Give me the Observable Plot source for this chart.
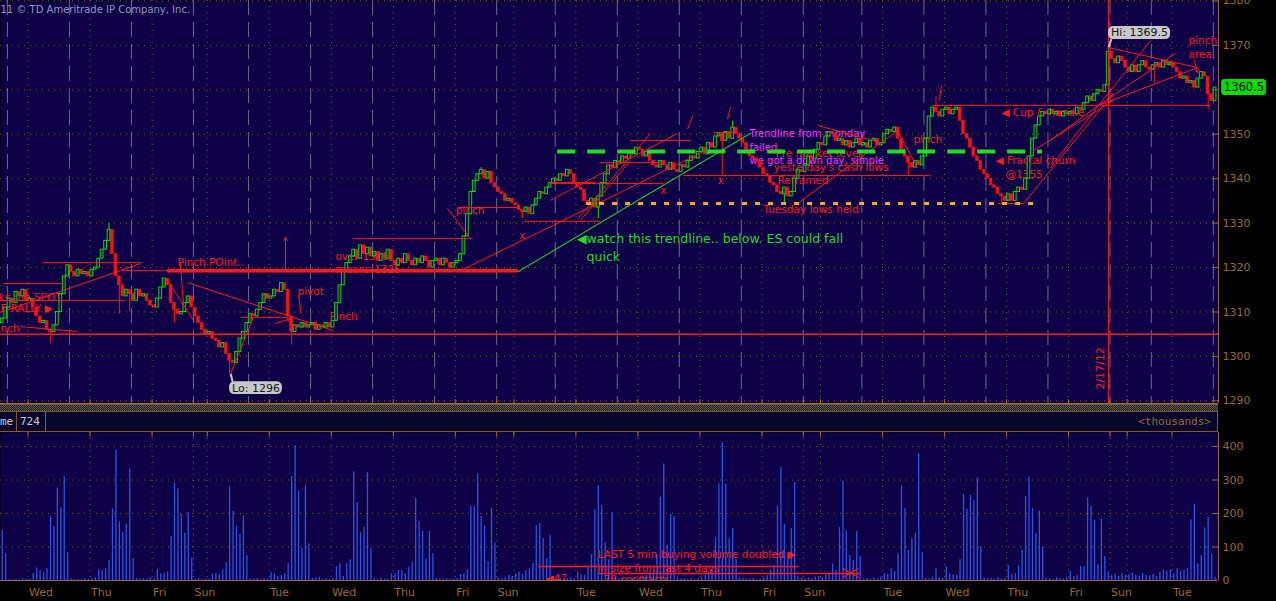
<!DOCTYPE html>
<html>
<head>
<meta charset="utf-8">
<script src="https://cdn.jsdelivr.net/npm/d3@7"></script>
<script src="https://cdn.jsdelivr.net/npm/@observablehq/plot@0.6"></script>
<style>
html,body{margin:0;padding:0;background:#000;}
body{width:1276px;height:601px;overflow:hidden;position:relative;font-family:"DejaVu Sans",sans-serif;}
#price{position:absolute;left:0;top:0;}
#vol{position:absolute;left:0;top:432px;}
#sep{position:absolute;left:0;top:404px;width:1218px;height:6px;border-top:1px solid #8a5a1e;border-bottom:1px solid #8a5a1e;background:repeating-conic-gradient(#5e5e5e 0 25%,#1c1c1c 0 50%) 0 0/2px 2px;}
#hdr{position:absolute;left:0;top:412px;width:1217px;height:19px;background:#07072e;border-bottom:1px solid #8a5a1e;border-right:1px solid #8a5a1e;font-size:11px;line-height:19px;}
#hdr .b{position:absolute;top:0;height:19px;border-right:1px solid #8a5a1e;color:#c8c8d4;font-family:"DejaVu Sans Mono",monospace;box-sizing:border-box;}
#th{position:absolute;right:6px;top:0;color:#9a6a30;font-family:"DejaVu Sans Mono",monospace;}
svg{overflow:visible;}
</style>
</head>
<body>
<div id="price"></div>
<div id="sep"></div>
<div id="hdr"><span class="b" style="left:0;width:17px;">me</span><span class="b" style="left:17px;width:29px;padding-left:3px;">724</span><span id="th">&lt;thousands&gt;</span></div>
<div id="vol"></div>
<script>
// ---------- colours ----------
const NAVY="#0d0046", AX="#9a6a30", GRID="#8a6226", GRAY="#6c6c84", UP="#00e000", DN="#ff1010", RED="#ff1a1a", VOLC="#2a55e6", MAG="#ff33ff", GRN="#22dd22";
const FONT="DejaVu Sans";

// ---------- sessions (one entry per day on the time axis) ----------
const dayNames=["Tue","Wed","Thu","Fri","Sun","Mon","Tue","Wed","Thu","Fri","Sun","Mon","Tue","Wed","Thu","Fri","Sun","Mon","Tue","Wed","Thu","Fri","Sun","Mon","Tue"];
const dayBars=[8,18,18,12,4,18,18,18,18,12,5,18,18,18,18,12,5,18,18,18,18,12,5,13,13];
const sessionOpens=[2,20,38,56,72,90,108,126,144,161,179,197,215,233,250,268,286,304,322,334,352];

// ---------- price (ES, closes per bar) ----------
const firstOpen=1307.5;
const closes=[
 1308.5,1311,1313,1312,1314.5,1313.5,1315,1312.5,
 1313,1311,1309,1307.5,1308,1306,1305.5,1307,1310,1314,1318,1320.5,1319,1318,1319.5,1318.5,1319,1318,
 1319.5,1320,1322,1324,1326,1328.5,1323,1318,1316,1313.5,1315,1314,1312.5,1315,1313.5,1314,1312.5,1311.5,
 1311,1313,1315.5,1317.5,1316,1312,1310.5,1309.5,1310,1312,1313.5,1311,
 1309,1307.5,1306,1305,
 1305.5,1304,1303.5,1302,1303,1300.5,1299,1298.5,1301,1304,1305.5,1307.5,1309.5,1309,1310.5,1312,1314,1313,
 1313.5,1315,1314.5,1316.5,1315,1309,1305.5,1307,1306.5,1307.5,1306.5,1307,1307.5,1306,1307,1306.5,1307.5,1306.5,
 1308,1312,1316,1319,1321,1322.5,1324,1322,1325,1323,1324.5,1322.5,1323.5,1321.5,1323,1322,1324,1321.5,
 1320.5,1322,1321,1323,1321.5,1320.5,1322,1321,1322.5,1321.5,1320,1321.5,1322,1320.5,1322,1321,1320,1321,
 1321.5,1323,1327,1332,1337,1339.5,1341,1342,1340,1341.5,1339,1338,
 1337,1336.5,1335,1335.5,1334.5,
 1334,1333,1332.5,1333.5,1332,1334,1335.5,1337,1336.5,1338,1339,1340,1339.5,1341,1340.5,1342,1341,1339,
 1338,1337.5,1335,1334,1335.5,1333.5,1336,1339,1341,1343,1342.5,1344,1343.5,1345,1344.5,1346,1345.5,1347,
 1346.5,1345,1346,1344,1343,1342.5,1344,1343,1342,1343.5,1342,1341.5,1343,1342.5,1344,1345,1344.5,1346,
 1347,1345.5,1348,1347,1349.5,1350,1348.5,1350.5,1349,1351.5,1350,1349,1348,1346.5,1345,1344.5,1344,1342.5,
 1341,1340.5,1339,1338.5,1337,1336.5,1338,1336,1337,1340,1342,1341.5,
 1343,1345,1344.5,1346.5,1348,
 1347.5,1349.5,1350.5,1350,1348.5,1349,1347.5,1348.5,1347,1348,1349,1347.5,1348,1347,1348.5,1349,1347.5,1348,
 1350,1351,1350.5,1351.5,1349,1346.5,1345,1343.5,1342.5,1344,1343,1345,1349,1354,1356,1355,1354,1355.5,
 1356,1354.5,1355.5,1356,1353,1350,1349,1347,1345,1344,1342,1341,1340,1338.5,1338,1336.5,1336,1335,
 1336.5,1335,1337,1338,1337.5,1340,1345,1349,1352,1354,1355,1354.5,1355.5,1354.5,1355,1354,1355,1354.5,
 1355,1354.5,1356,1355.5,1357,1358.5,1357.5,1359,1360,1359.5,1361,1368.5,
 1367,1366,1367.5,1366.5,1365,
 1364,1365.5,1364,1365.5,1366.5,1365,1364.5,1365.5,1366,1365,1366.5,1365.5,1366,
 1365,1364,1362.5,1363,1361.5,1362,1360.5,1362.5,1364,1363,1359,1357.5,1360.5
];
const wickBars=[14,31,34,37,50,66,84,139,151,173,212,227,263,271,290,321,350];
const wickTip=[1303,1330,1309.5,1310,1307.5,1296,1302.5,1342.5,1331,1331,1353,1334,1340.5,1358.5,1334.5,1369.5,1355.5];

// ---------- volume (thousands) ----------
const volumes=[
 150,80,3,2,4,3,5,3,
 4,20,37,30,25,35,191,161,276,217,310,83,5,3,4,2,5,3,
 5,8,32,30,35,59,214,390,176,143,169,333,65,6,4,5,3,8,
 5,32,20,22,25,131,290,273,198,141,203,67,
 3,5,2,4,
 4,20,22,18,32,54,281,206,161,137,191,75,5,4,6,3,5,4,
 25,20,12,15,20,52,310,402,268,95,284,109,6,8,10,4,5,3,
 5,42,50,12,50,62,325,232,143,159,322,95,5,3,6,4,3,20,
 20,30,30,20,40,55,245,176,147,65,147,80,6,5,4,5,3,4,
 5,18,20,32,221,221,318,191,161,56,215,113,
 8,5,10,15,12,
 20,25,18,30,35,50,164,170,125,65,134,10,5,6,4,5,8,6,
 25,18,15,42,77,211,283,224,113,62,204,8,5,4,6,3,5,4,
 8,12,15,25,30,77,249,348,106,198,191,10,5,6,4,5,3,6,
 10,15,25,30,128,289,411,288,126,155,63,8,6,5,4,6,3,5,
 10,15,30,43,221,337,167,80,156,293,10,8,
 5,8,6,10,12,
 10,15,20,49,30,158,297,149,75,60,147,72,5,6,4,8,5,10,
 20,18,35,27,80,283,215,90,125,140,379,83,6,5,10,35,8,6,
 42,20,18,15,62,257,212,254,239,307,101,8,5,6,4,8,5,6,
 45,18,20,45,90,251,308,215,140,207,99,6,5,4,8,6,5,8,
 27,12,15,42,40,246,221,180,48,183,72,25,
 15,18,12,20,16,
 18,22,15,12,20,16,14,18,12,25,30,28,32,
 20,35,28,30,35,181,228,50,75,157,189,78,10
];

// ---------- axes ----------
const priceTicks=[1290,1300,1310,1320,1330,1340,1350,1360,1370,1380];
const volTicks=[0,100,200,300,400];
const hiLabel="Hi: 1369.5", loLabel="Lo: 1296", lastLabel="1360.5", dateLabel="2/17/12";
const copyright="11 © TD Ameritrade IP Company, Inc.";

// ---------- drawings (bar index, price) ----------
const supportLevel=1305;
const thickLine={x1:48.5,x2:150.3,y:1319.3};
const greenLine=[[150.3,1319.1],[217.7,1350.2]];
const greenDash={x1:161.7,x2:302.4,y:1346.1};
const yellowDash={x1:170.1,x2:301.8,y:1334.4};
const dateLine=321.6;
const redLines=[
 [35.4,1319.3,48.5,1319.3],[12.2,1321.1,40.6,1321.1],[0.9,1316.4,18,1316.4],[0,1312.6,36.3,1312.6],
 [0,1309.9,40.6,1320.9],[5.8,1306.7,22.3,1305.6],[54.3,1316.6,96.6,1305.8],[52.2,1320.9,53.1,1311.9],
 [48.5,1317.1,56,1308.1],[66.8,1296.1,73.4,1308.8],[69.7,1308.8,83.3,1308.8],[86.5,1313.8,87.3,1309.5],
 [102.2,1326.5,136.4,1326.5],[129.7,1333.3,136.4,1326.5],[133.5,1319.3,204.6,1346.3],[151.8,1330.4,174.1,1330.4],
 [159.6,1338.9,192.4,1338.9],[132.6,1333.5,150,1333.5],[168.3,1330.6,182.8,1344.1],[159.6,1339.1,172.7,1339.1],
 [159.6,1335.1,196.5,1350.2],[167.5,1331.0,188.7,1350.2],[182.8,1348.6,200.3,1348.6],[174.1,1343.6,192.4,1343.6],
 [198.2,1340.7,269.9,1340.7],[206.9,1350.4,213.9,1350.4],[209.5,1350.4,209.5,1340.7],[231.3,1334.4,260.3,1350.8],
 [260.3,1350.8,266.1,1342.5],[237.1,1352,255.4,1348.1],[270.5,1356.5,351.2,1356.5],[289.4,1334.4,296.9,1334.4],
 [296.9,1334.4,323,1359.2],[299.8,1346.3,323,1357.6],[304.7,1348.6,318.7,1356.5],[304.7,1342.5,318.7,1356.5],
 [318.7,1356.5,333.8,1371.1],[318.7,1356.5,341,1368.2],[318.7,1356.5,347.4,1365.0],[321.6,1369.5,347.4,1365.0],
 [335,1366.1,335,1361.6],[199.4,1351.2,200.9,1354.1],[211,1353.4,211.9,1356.1],[272.5,1357.6,273.1,1361]
];
const redArrows=[[82.7,1319.3,82.7,1326.8],[79.8,1307.4,84.2,1308.5],[346.5,1366.6,347.4,1363.9]];
const crossMarks=[[151.4,1327.2],[192.4,1337.3],[209,1339.6]];
const redTexts=[
 [51.4,1321.1,"Pinch POint.."],[86.2,1314.6,"pivot"],[95.5,1309.0,"Pinch"],[97.2,1322.5,"over 1325"],
 [97.2,1319.6,"means 1325"],[-0.6,1313.3,"ks the SPOT"],[0,1310.8,"E RALLY ▶"],[0,1306.3,"nch"],
 [132.1,1332.8,"pinch"],[224.9,1345.7,"Pre market level"],[224.4,1342.5,"yesterday's cash lows"],
 [225.5,1339.6,"Reframed"],[221.4,1333.1,"Tuesday lows held"],[265,1348.8,"pinch"],
 [290.5,1354.9,"◀ Cup & handle"],[288.8,1344.1,"◀ Fractal churn"],[291.7,1340.9,"@1355"],
 [344.8,1371.1,"pinch"],[344.8,1367.9,"area"]
];
const magTexts=[[217.4,1350.2,"Trendline from monday"],[217.4,1347.0,"failed"],[217.4,1344.1,"we got a down day, simple"]];
const greenTexts=[[167.3,1326.5,"◀"],[170.1,1326.5,"watch this trendline.. below. ES could fall"],[170.1,1322.3,"quick"]];
// volume-panel drawings (bar index, thousands)
const volTexts=[[173.3,77.6,"LAST 5 min buying volume doubled ▶"],[173.3,35.8,"in size from last 4 days"],[158.2,5,"◀47"],[175,2,"78 contracts"]];
const volLines=[[156.1,41.8,231.6,41.8],[173.6,20.9,249.6,20.9],[244.4,35.8,249,9],[244.4,9,249,35.8]];

// ---------- derived ----------
const XMAX=353.5, YMIN=1289.4, YMAX=1380.1, VMAX=441.8;
const starts=[]; {let s=0; for(const n of dayBars){starts.push(s); s+=n;}}
const days=dayNames.map((d,k)=>({d,s:starts[k],k}));
const midnights=days.filter(e=>e.k>0 && e.d!=="Sun").map(e=>e.s);
const tickDays=days.filter(e=>e.k>0).map(e=>e.s);
const labelDays=days.filter(e=>e.k>0 && e.d!=="Mon");
const bars=closes.map((c,i)=>({i,o:i?closes[i-1]:firstOpen,c}));
const ups=bars.filter(b=>b.c>=b.o), dns=bars.filter(b=>b.c<b.o);
const wicks=wickBars.map((i,k)=>({i,tip:wickTip[k],mid:(bars[i].o+bars[i].c)/2,up:bars[i].c>=bars[i].o}));
const T=(data,opts)=>Plot.text(data,{x:d=>d[0],y:d=>d[1],text:d=>d[2],textAnchor:"start",fontFamily:FONT,...opts});

const price=Plot.plot({
  width:1276,height:404,marginTop:0,marginBottom:1,marginLeft:0,marginRight:58,
  style:{background:"transparent",color:AX,overflow:"visible"},
  x:{domain:[0,XMAX],axis:null},
  y:{domain:[YMIN,YMAX]},
  marks:[
    Plot.frame({fill:NAVY,stroke:"none"}),
    Plot.ruleY(priceTicks,{stroke:GRID,strokeDasharray:"1,5"}),
    Plot.ruleX(midnights,{stroke:GRID,strokeDasharray:"1,5"}),
    Plot.ruleX(sessionOpens,{stroke:GRAY,strokeDasharray:"15,7"}),
    Plot.text([copyright],{x:0,y:1378.1,textAnchor:"start",fill:"#9696bc",fontSize:10,fontFamily:FONT}),
    T(redTexts,{fill:RED,fontSize:10.5}),
    T(magTexts,{fill:MAG,fontSize:10}),
    T(greenTexts,{fill:GRN,fontSize:12.5}),
    Plot.ruleX(wicks,{x:d=>d.i+0.5,y1:"mid",y2:"tip",stroke:d=>d.up?UP:DN}),
    Plot.rect(dns,{x1:d=>d.i+0.1,x2:d=>d.i+0.9,y1:"o",y2:"c",fill:DN,stroke:DN,strokeWidth:0.6}),
    Plot.rect(ups,{x1:d=>d.i+0.1,x2:d=>d.i+0.9,y1:"o",y2:"c",fill:NAVY,stroke:UP,strokeWidth:1}),
    Plot.ruleY([supportLevel],{x1:0,x2:XMAX,stroke:RED,strokeWidth:1.5}),
    Plot.ruleY([thickLine],{x1:"x1",x2:"x2",y:"y",stroke:RED,strokeWidth:3.5}),
    Plot.link(redLines,{x1:d=>d[0],y1:d=>d[1],x2:d=>d[2],y2:d=>d[3],stroke:RED,strokeWidth:1}),
    Plot.arrow(redArrows,{x1:d=>d[0],y1:d=>d[1],x2:d=>d[2],y2:d=>d[3],stroke:RED,strokeWidth:1,headLength:6}),
    Plot.text(crossMarks,{x:d=>d[0],y:d=>d[1],text:()=>"x",fill:RED,fontSize:10,fontFamily:FONT}),
    Plot.ruleX([dateLine],{stroke:RED,strokeWidth:1}),
    Plot.text([dateLabel],{x:319.3,y:1297.3,rotate:-90,fill:RED,fontSize:11,fontFamily:FONT}),
    Plot.line(greenLine,{x:d=>d[0],y:d=>d[1],stroke:"#22c022",strokeWidth:1.2}),
    Plot.ruleY([greenDash],{x1:"x1",x2:"x2",y:"y",stroke:GRN,strokeWidth:4,strokeDasharray:"18,12"}),
    Plot.ruleY([yellowDash],{x1:"x1",x2:"x2",y:"y",stroke:"#f0b020",strokeWidth:3,strokeDasharray:"5,8"}),
    // bubbles
    Plot.link([0],{x1:322.4,y1:1371.4,x2:321.6,y2:1369.6,stroke:"#c8c8c8",strokeWidth:2}),
    Plot.rect([0],{x1:321.6,x2:339.6,y1:1371.3,y2:1374.25,fill:"#c8c8c8",rx:5}),
    Plot.text([hiLabel],{x:330.6,y:1372.8,fill:"#151515",fontSize:11,fontFamily:FONT}),
    Plot.link([0],{x1:67.4,y1:1294.2,x2:66.8,y2:1296.1,stroke:"#c8c8c8",strokeWidth:2}),
    Plot.rect([0],{x1:66.5,x2:81.8,y1:1291.4,y2:1294.3,fill:"#c8c8c8",rx:5}),
    Plot.text([loLabel],{x:74.15,y:1292.85,fill:"#151515",fontSize:11,fontFamily:FONT}),
    // axis & frame
    Plot.ruleY(priceTicks,{x1:XMAX-1.75,x2:XMAX,stroke:AX}),
    Plot.axisY(priceTicks.filter(t=>t!==1360),{anchor:"right",tickSize:0,tickPadding:4,tickFormat:d=>String(d),fontSize:11,fontFamily:FONT,label:null}),
    Plot.ruleX([XMAX],{stroke:AX}),
    Plot.ruleY([YMIN],{stroke:AX}),
    Plot.ruleX(tickDays,{y1:YMIN,y2:YMIN+0.9,stroke:AX}),
    // last-price badge drawn over the axis
    Plot.rect([0],{x1:354.4,x2:367.4,y1:1358.7,y2:1362.3,fill:"#00dd00",rx:3}),
    Plot.text([lastLabel],{x:360.9,y:1360.5,fill:"#000",fontSize:11.5,fontFamily:FONT})
  ]
});
document.getElementById("price").append(price);

const vol=Plot.plot({
  width:1276,height:169,marginTop:0,marginBottom:21,marginLeft:0,marginRight:58,
  style:{background:"transparent",color:AX,overflow:"visible"},
  x:{domain:[0,XMAX],axis:null},
  y:{domain:[0,VMAX]},
  marks:[
    Plot.frame({fill:NAVY,stroke:"none"}),
    Plot.ruleY(volTicks.slice(1),{stroke:GRID,strokeDasharray:"1,5"}),
    Plot.ruleX(tickDays,{stroke:GRID,strokeDasharray:"1,5"}),
    Plot.ruleX(volumes.map((v,i)=>({i,v})),{x:d=>d.i+0.5,y1:0,y2:"v",stroke:VOLC,strokeWidth:1.3}),
    Plot.link(volLines,{x1:d=>d[0],y1:d=>d[1],x2:d=>d[2],y2:d=>d[3],stroke:RED,strokeWidth:1.3}),
    T(volTexts,{fill:RED,fontSize:10.5,clip:true}),
    Plot.ruleY(volTicks.slice(1),{x1:XMAX-1.75,x2:XMAX,stroke:AX}),
    Plot.axisY(volTicks,{anchor:"right",tickSize:0,tickPadding:4,tickFormat:d=>String(d),fontSize:11,fontFamily:FONT,label:null}),
    Plot.ruleX([XMAX],{stroke:AX}),
    Plot.ruleY([0],{stroke:AX}),
    Plot.ruleX(tickDays,{y1:VMAX,y2:VMAX-15,stroke:AX}),
    Plot.text(labelDays,{x:"s",y:0,text:"d",dy:12,dx:1,textAnchor:"start",fontSize:11,fontFamily:FONT,fill:AX})
  ]
});
document.getElementById("vol").append(vol);
</script>
</body>
</html>
